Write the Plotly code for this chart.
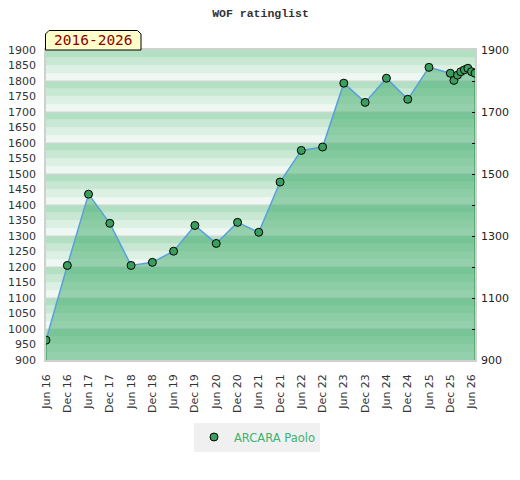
import plotly.graph_objects as go

# ---------------- data ----------------
dates = ["2016-06-01", "2016-12-01", "2017-06-01", "2017-12-01", "2018-06-01",
         "2018-12-01", "2019-06-01", "2019-12-01", "2020-06-01", "2020-12-01",
         "2021-06-01", "2021-12-01", "2022-06-01", "2022-12-01", "2023-06-01",
         "2023-12-01", "2024-06-01", "2024-12-01", "2025-06-01", "2025-12-01",
         "2026-01-01", "2026-02-01", "2026-03-01", "2026-04-01", "2026-05-01",
         "2026-06-01", "2026-07-01"]
ratings = [964, 1205, 1435, 1341, 1205, 1215, 1251, 1334, 1276, 1344,
           1312, 1474, 1576, 1587, 1793, 1731, 1809, 1741, 1844, 1825,
           1802, 1819, 1830, 1836, 1841, 1830, 1825]
player = "ARCARA Paolo"
title_text = "WOF ratinglist"
period_text = "2016-2026"

tick_dates = ["2016-06-01", "2016-12-01", "2017-06-01", "2017-12-01", "2018-06-01",
              "2018-12-01", "2019-06-01", "2019-12-01", "2020-06-01", "2020-12-01",
              "2021-06-01", "2021-12-01", "2022-06-01", "2022-12-01", "2023-06-01",
              "2023-12-01", "2024-06-01", "2024-12-01", "2025-06-01", "2025-12-01",
              "2026-06-01"]
tick_labels = ["Jun 16", "Dec 16", "Jun 17", "Dec 17", "Jun 18", "Dec 18", "Jun 19",
               "Dec 19", "Jun 20", "Dec 20", "Jun 21", "Dec 21", "Jun 22", "Dec 22",
               "Jun 23", "Dec 23", "Jun 24", "Dec 24", "Jun 25", "Dec 25", "Jun 26"]
y_min, y_max = 900, 1900
left_ticks = list(range(900, 1901, 50))
right_ticks = list(range(900, 1901, 100))
right_labels = [str(v) if (v - 900) % 200 == 0 else "" for v in right_ticks]

# ---------------- layout geometry (page has 8px body margin) ----------------
OFF = 8
W, H = 520 - OFF, 480 - OFF
ML, MT = 46 - OFF, 50 - OFF
MR, MB = W - (475 - OFF), H - (360 - OFF)
PW, PH = W - ML - MR, H - MT - MB


def px(x):
    """reference-window pixel x -> paper x"""
    return (x - OFF - ML) / PW


def py(y):
    """reference-window pixel y -> paper y"""
    return (H - MB - (y - OFF)) / PH


fig = go.Figure()

# filled area + line
fig.add_trace(go.Scatter(
    x=dates, y=ratings, mode="lines", fill="tozeroy",
    fillcolor="rgba(60,170,105,0.5)",
    line=dict(color="#58a0dc", width=1.5),
    showlegend=False, hoverinfo="skip"))
# area edges
for i in (0, -1):
    fig.add_trace(go.Scatter(
        x=[dates[i], dates[i]], y=[y_min, ratings[i]], mode="lines",
        line=dict(color="#3a9a5a", width=1.2), showlegend=False, hoverinfo="skip"))
# markers
fig.add_trace(go.Scatter(
    x=dates, y=ratings, mode="markers", name=player,
    marker=dict(color="#3a9e5c", size=8, line=dict(color="#000000", width=1))))
# dummy trace for right axis
fig.add_trace(go.Scatter(x=[dates[0]], y=[y_min], yaxis="y2", mode="markers",
                         marker=dict(opacity=0), showlegend=False, hoverinfo="skip"))

shapes = []
stripe_cols = ["#eef7f1", "#dcf0e3", "#c8e8d3", "#b3dfc3"]
v = y_min
k = 0
while v < y_max:
    shapes.append(dict(type="rect", xref="paper", yref="y", x0=0, x1=1, y0=v, y1=v + 25,
                       fillcolor=stripe_cols[k % 4], line=dict(width=0), layer="below"))
    v += 25
    k += 1
for g in range(1000, 1900, 100):
    shapes.append(dict(type="line", xref="paper", yref="y", x0=0, x1=1, y0=g, y1=g,
                       line=dict(color="#d4d4d4", width=1), layer="below"))

# period label box with chamfered top corners
bx0, bx1, by0, by1, c = 45.5, 141, 50, 30.5, 3.5
path = (f"M {px(bx0)},{py(by0)} L {px(bx0)},{py(by1 + c)} L {px(bx0 + c)},{py(by1)} "
        f"L {px(bx1 - c)},{py(by1)} L {px(bx1)},{py(by1 + c)} L {px(bx1)},{py(by0)} Z")
shapes.append(dict(type="path", xref="paper", yref="paper", path=path,
                   fillcolor="#ffffcc", line=dict(color="#000000", width=1), layer="above"))

fig.update_layout(
    width=W, height=H,
    margin=dict(l=ML, r=MR, t=MT, b=MB, autoexpand=False),
    paper_bgcolor="white", plot_bgcolor="white",
    shapes=shapes,
    title=dict(text="<b>" + title_text + "</b>", x=(260.5 - OFF) / W, xanchor="center",
               xref="container", y=1 - (13 - OFF) / H, yanchor="middle", yref="container",
               font=dict(family="Liberation Mono", size=11.5, color="#333333")),
    annotations=[dict(text=period_text, xref="paper", yref="paper",
                      x=px((bx0 + bx1) / 2), y=py(40.5), xanchor="center", yanchor="middle",
                      showarrow=False,
                      font=dict(family="DejaVu Sans Mono", size=14.5, color="#8b0000"))],
    xaxis=dict(type="date", range=[dates[0], dates[-1]], tickvals=tick_dates,
               ticktext=tick_labels, tickangle=-90, showgrid=False, zeroline=False,
               showline=True, linecolor="#d0d0d0", linewidth=1.5, mirror=True,
               ticks="", ticklabelstandoff=8, automargin=False,
               tickfont=dict(family="DejaVu Sans", size=11, color="#333333")),
    yaxis=dict(range=[y_min, y_max], tickvals=left_ticks, showgrid=False, zeroline=False,
               showline=True, linecolor="#d0d0d0", linewidth=1.5, mirror=True,
               ticks="", ticklabelstandoff=6, automargin=False,
               tickfont=dict(family="DejaVu Sans", size=11, color="#333333")),
    yaxis2=dict(range=[y_min, y_max], overlaying="y", side="right", tickvals=right_ticks,
                ticktext=right_labels, showgrid=False, zeroline=False, automargin=False,
                ticks="inside", ticklen=3, tickcolor="#000000", ticklabelstandoff=5,
                tickfont=dict(family="DejaVu Sans", size=11, color="#222222")),
    legend=dict(orientation="h", x=px(194), xanchor="left", y=py(437), yanchor="middle",
                bgcolor="#f0f0f0", font=dict(family="DejaVu Sans", size=11.5, color="#3cb371"),
                itemwidth=30),
)

fig.write_html("out.html")
